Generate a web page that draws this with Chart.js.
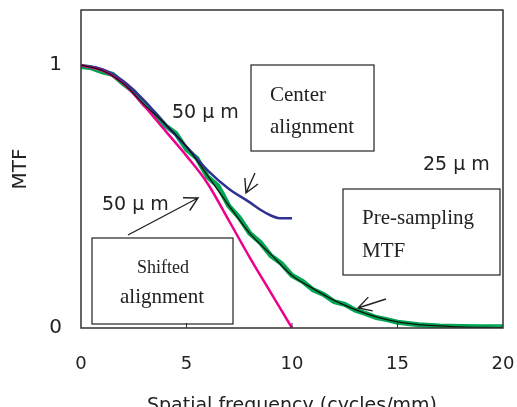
<!DOCTYPE html>
<html>
<head>
<meta charset="utf-8">
<script src="https://cdn.jsdelivr.net/npm/chart.js@4.4.0/dist/chart.umd.min.js"></script>
<style>
  html, body { margin: 0; padding: 0; background: #fff; }
  #wrap { width: 517px; height: 407px; }
</style>
</head>
<body>
<div id="wrap"><canvas id="mtf"></canvas></div>
<script>
// ---- Data --------------------------------------------------
const freqCoarse = [0, 1, 2, 3, 4, 5, 6, 7, 8, 9, 10];

// 50 um, shifted alignment (magenta)
const shiftedMtf = [1.0, 0.98, 0.93, 0.845, 0.75, 0.655, 0.55, 0.41, 0.268, 0.134, 0.0];

// 50 um, center alignment (blue)
const centerFreq = [0, 1, 2, 3, 4, 5, 6, 7, 8, 8.5, 9, 9.4, 10];
const centerMtf  = [1.0, 0.985, 0.94, 0.865, 0.775, 0.69, 0.6, 0.53, 0.478, 0.45, 0.428, 0.418, 0.418];

// 25 um, measured (thick green, stepped)
const greenFreq = [0, 0.5, 1, 1.5, 2, 2.5, 3, 3.5, 4, 4.5, 5, 5.5, 6, 6.5, 7, 7.5, 8, 8.5, 9, 9.5,
                   10, 10.5, 11, 11.5, 12, 12.5, 13, 13.5, 14, 14.5, 15, 15.5, 16, 17, 18, 19, 20];
const greenMtf  = [0.995, 0.99, 0.975, 0.965, 0.93, 0.9, 0.85, 0.815, 0.77, 0.74, 0.68, 0.645, 0.575, 0.54, 0.465, 0.42, 0.36, 0.325, 0.275, 0.245,
                   0.2, 0.178, 0.145, 0.128, 0.1, 0.09, 0.068, 0.055, 0.04, 0.032, 0.022, 0.017, 0.012, 0.008, 0.006, 0.005, 0.005];

// pre-sampling MTF (thin black)
const preFreq = [0, 1, 2, 3, 4, 5, 6, 7, 8, 9, 10, 11, 12, 13, 14, 15, 16, 17, 18, 19, 20];
const preMtf  = [1.0, 0.98, 0.93, 0.85, 0.775, 0.69, 0.58, 0.467, 0.36, 0.28, 0.2, 0.15, 0.105, 0.07, 0.042, 0.023, 0.013, 0.008, 0.004, 0.002, 0.001];

const xTicks = [0, 5, 10, 15, 20];
const yTicks = [0, 1];

const pts = (xs, ys) => xs.map((x, i) => ({ x: x, y: ys[i] }));

// ---- Frame, inner ticks, labels and arrows ----------------
function arrow(ctx, x1, y1, x2, y2) {
  const a = Math.atan2(y2 - y1, x2 - x1);
  const len = 15, spread = 0.5;
  ctx.beginPath();
  ctx.moveTo(x1, y1);
  ctx.lineTo(x2, y2);
  ctx.moveTo(x2 - len * Math.cos(a - spread), y2 - len * Math.sin(a - spread));
  ctx.lineTo(x2, y2);
  ctx.lineTo(x2 - len * Math.cos(a + spread), y2 - len * Math.sin(a + spread));
  ctx.stroke();
}

// keep the plot box where the original has it
function noPad(s) {
  s.paddingTop = 0;
  s.paddingBottom = 0;
  s.paddingLeft = 0;
  s.paddingRight = 0;
}

const decorations = {
  id: 'decorations',
  afterDraw(chart) {
    const { ctx, chartArea: ca, scales } = chart;
    ctx.save();

    // frame
    ctx.strokeStyle = '#333';
    ctx.lineWidth = 1.5;
    ctx.strokeRect(ca.left, ca.top, ca.right - ca.left, ca.bottom - ca.top);

    // small inner ticks on the x axis
    ctx.lineWidth = 1;
    [5, 10, 15].forEach(v => {
      const x = scales.x.getPixelForValue(v);
      ctx.beginPath();
      ctx.moveTo(x, ca.bottom);
      ctx.lineTo(x, ca.bottom - 5);
      ctx.stroke();
    });

    // boxes
    ctx.strokeStyle = '#222';
    ctx.lineWidth = 1.2;
    ctx.strokeRect(251, 65, 123, 86);
    ctx.strokeRect(343, 189, 157, 86);
    ctx.strokeRect(92, 238, 141, 86);

    // serif box text
    ctx.fillStyle = '#222';
    ctx.textBaseline = 'alphabetic';
    ctx.font = '21px "Liberation Serif", serif';
    ctx.fillText('Center', 270, 101);
    ctx.fillText('alignment', 270, 133);
    ctx.fillText('Pre-sampling', 362, 224);
    ctx.fillText('MTF', 362, 257);
    ctx.fillText('alignment', 120, 303);
    ctx.font = '18px "Liberation Serif", serif';
    ctx.fillText('Shifted', 137, 273);

    // pitch labels
    ctx.font = '19px "DejaVu Sans", sans-serif';
    ctx.fillText('50 μ m', 172, 118);
    ctx.fillText('25 μ m', 423, 170);
    ctx.fillText('50 μ m', 102, 210);

    // arrows
    ctx.strokeStyle = '#222';
    ctx.lineWidth = 1.4;
    arrow(ctx, 128, 235, 198, 198);
    arrow(ctx, 255, 173, 246, 193);
    arrow(ctx, 386, 299, 358, 308);

    ctx.restore();
  }
};

new Chart(document.getElementById('mtf'), {
  type: 'scatter',
  data: {
    datasets: [
      {
        label: '25um',
        data: pts(greenFreq, greenMtf),
        showLine: true,
        borderColor: '#00a651',
        borderWidth: 5,
        pointRadius: 0,
        tension: 0,
        order: 4
      },
      {
        label: 'center',
        data: pts(centerFreq, centerMtf),
        showLine: true,
        borderColor: '#2e3192',
        borderWidth: 2.5,
        pointRadius: 0,
        cubicInterpolationMode: 'monotone',
        order: 3
      },
      {
        label: 'shifted',
        data: pts(freqCoarse, shiftedMtf),
        showLine: true,
        borderColor: '#ec008c',
        borderWidth: 2.5,
        pointRadius: 0,
        cubicInterpolationMode: 'monotone',
        order: 2
      },
      {
        label: 'pre-sampling',
        data: pts(preFreq, preMtf),
        showLine: true,
        borderColor: '#111',
        borderWidth: 1.3,
        pointRadius: 0,
        cubicInterpolationMode: 'monotone',
        order: 1
      }
    ]
  },
  options: {
    responsive: true,
    maintainAspectRatio: false,
    animation: false,
    layout: { padding: { top: 10, right: 14, left: 0, bottom: 0 } },
    plugins: {
      legend: { display: false },
      tooltip: { enabled: false }
    },
    scales: {
      x: {
        type: 'linear',
        min: 0,
        max: 20,
        afterBuildTicks: s => { s.ticks = xTicks.map(v => ({ value: v })); },
        afterFit: s => { s.height = 79; noPad(s); },
        grid: { display: false, drawTicks: false },
        border: { display: false },
        ticks: { color: '#222', padding: 26, font: { family: '"DejaVu Sans", sans-serif', size: 18 } },
        title: {
          display: true,
          text: 'Spatial frequency (cycles/mm)',
          color: '#222',
          padding: { top: 0, bottom: -10 },
          font: { family: '"DejaVu Sans", sans-serif', size: 19 }
        }
      },
      y: {
        type: 'linear',
        min: 0,
        max: 1.21,
        afterBuildTicks: s => { s.ticks = yTicks.map(v => ({ value: v })); },
        afterFit: s => { s.width = 81; noPad(s); },
        grid: { display: false, drawTicks: false },
        border: { display: false },
        ticks: { color: '#222', padding: 19, font: { family: '"DejaVu Sans", sans-serif', size: 20 } },
        title: {
          display: true,
          text: 'MTF',
          color: '#222',
          padding: { top: 9, bottom: 0 },
          font: { family: '"DejaVu Sans", sans-serif', size: 20 }
        }
      }
    }
  },
  plugins: [decorations]
});
</script>
</body>
</html>
